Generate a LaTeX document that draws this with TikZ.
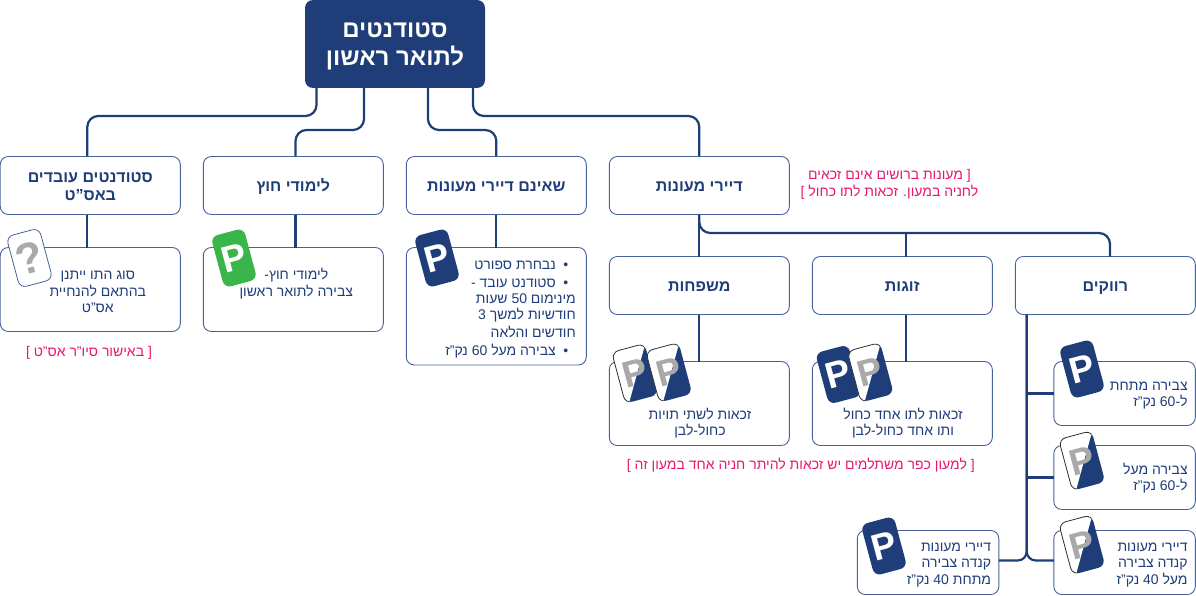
\documentclass[tikz,border=0pt]{standalone}
\usepackage{fontspec}
\setmainfont{Liberation Sans}
\newfontfamily\hebfont[Script=Hebrew]{Liberation Sans}
\TeXXeTstate=1
\usetikzlibrary{positioning}

\definecolor{navy}{HTML}{1F3D78}
\definecolor{edge}{HTML}{47629B}
\definecolor{pinknote}{HTML}{E6176F}
\definecolor{greencard}{HTML}{39B54A}
\definecolor{graycard}{HTML}{A9A9A9}

\newcommand{\rl}[1]{\strut\raisebox{-2.3pt}{\beginR #1\endR}}
\newcommand{\num}[1]{\beginL #1\endL{}}
\newcommand{\bul}{\makebox[20pt][c]{\raisebox{-2.3pt}{•}}}

\tikzset{
  rootbox/.style={rectangle,fill=navy,rounded corners=8pt,minimum width=180pt,minimum height=88pt,outer sep=0pt,
    text=white,align=center,font=\hebfont\fontsize{24}{28}\selectfont\bfseries},
  headbox/.style={rectangle,draw=edge,line width=.9pt,rounded corners=8pt,minimum width=180pt,minimum height=58pt,outer sep=0pt,
    text=navy,align=center,font=\hebfont\fontsize{16}{18.5}\selectfont\bfseries},
  notebox/.style={rectangle,draw=edge,line width=.9pt,rounded corners=8pt,minimum width=180pt,minimum height=84pt,outer sep=0pt},
  smallbox/.style={notebox,minimum width=141.5pt,minimum height=64pt},
  bodytext/.style={text=navy,align=center,inner sep=0pt,font=\hebfont\fontsize{14}{16}\selectfont},
  righttext/.style={bodytext,align=right,anchor=east},
  pinktext/.style={text=pinknote,align=center,inner sep=0pt,font=\hebfont\fontsize{14}{16}\selectfont},
  conn/.style={draw=navy,line width=2.2pt,rounded corners=11pt},
  card/.style={rectangle,rounded corners=7pt,minimum width=34pt,minimum height=53pt,rotate=15,inner sep=0pt,
    font=\fontsize{37}{37}\selectfont\bfseries},
  fullcard/.style={card,fill=navy,text=white},
  halfcard/.pic={
    \fill[navy,rounded corners=7pt] (-17,-26.5) rectangle (17,26.5);
    \begin{scope}
      \clip (-18,-28) -- (18,-28) -- (17,-25) -- (-14,28) -- (-18,28) -- cycle;
      \filldraw[fill=white,draw=black!80,line width=.8pt,rounded corners=7pt] (-17,-26.5) rectangle (17,26.5);
    \end{scope}
    \node[transform shape,text=graycard,inner sep=0pt,font=\fontsize{37}{37}\selectfont\bfseries] (-p) at (0,0) {P};
  }
}

\begin{document}
\begin{tikzpicture}[x=1pt,y=-1pt]
\useasboundingbox (0,0) rectangle (1196,596);

\node (root) [rootbox] at (395,44) {\rl{סטודנטים}\\\rl{לתואר ראשון}};

% first row
\node (dorms) [headbox] at (699.3,185.5) {\rl{דיירי מעונות}};
\node (nodorms) [headbox,left=23pt of dorms] {\rl{שאינם דיירי מעונות}};
\node (external) [headbox,left=23pt of nodorms] {\rl{לימודי חוץ}};
\node (working) [headbox,left=23pt of external] {\rl{סטודנטים עובדים}\\\rl{באס”ט}};

\node (workingnote) [notebox,below=33pt of working] {};
\node (externalnote) [notebox,below=33pt of external] {};
\node (nodormsnote) [notebox,below=33pt of nodorms,minimum height=117.5pt] {};

% second row
\node (families) [headbox,below=42pt of dorms] {\rl{משפחות}};
\node (couples) [headbox,right=23pt of families] {\rl{זוגות}};
\node (singles) [headbox,right=23pt of couples] {\rl{רווקים}};

\node (familiesnote) [notebox,below=47pt of families] {};
\node (couplesnote) [notebox,below=47pt of couples] {};

\node (below60) [smallbox,below=47pt of singles.south east,anchor=north east] {};
\node (above60) [smallbox,below=20pt of below60] {};
\node (canadaabove) [smallbox,below=21pt of above60] {};
\node (canadabelow) [smallbox,left=55pt of canadaabove] {};

\coordinate (spine) at ([xshift=-78.6pt]singles.south);

% texts of the boxes
\node (workingtext) [bodytext] at ([xshift=7.5pt,yshift=-1pt]workingnote.center) {\rl{סוג התו ייתנן}\\\rl{בהתאם להנחיית}\\\rl{אס”ט}};
\node (externaltext) [bodytext] at ([xshift=3pt,yshift=7pt]externalnote.center) {\rl{לימודי חוץ-}\\\rl{צבירה לתואר ראשון}};
\node (nodormstext) [righttext] at (576,307) {\rl{נבחרת ספורט}\bul\\[2.5pt]
  \rl{סטודנט עובד -}\bul\\
  \rl{מינימום \num{50} שעות}\hspace*{20pt}\\
  \rl{חודשיות למשך \num{3}}\hspace*{20pt}\\
  \rl{חודשים והלאה}\hspace*{20pt}\\[2.5pt]
  \rl{צבירה מעל \num{60} נק”ז}\bul};
\node (familiestext) [bodytext] at ([xshift=.7pt,yshift=-19pt]familiesnote.center) {\rl{זכאות לשתי תויות}\\\rl{כחול-לבן}};
\node (couplestext) [bodytext] at ([xshift=.7pt,yshift=-19pt]couplesnote.center) {\rl{זכאות לתו אחד כחול}\\\rl{ותו אחד כחול-לבן}};
\node (below60text) [righttext] at ([xshift=-7.5pt]below60.east) {\rl{צבירה מתחת}\\\rl{ל-\num{60} נק”ז}};
\node (above60text) [righttext] at ([xshift=-7.5pt]above60.east) {\rl{צבירה מעל}\\\rl{ל-\num{60} נק”ז}};
\node (canadaabovetext) [righttext] at ([xshift=-7.5pt]canadaabove.east) {\rl{דיירי מעונות}\\\rl{קנדה צבירה}\\\rl{מעל \num{40} נק”ז}};
\node (canadabelowtext) [righttext] at ([xshift=-7.5pt]canadabelow.east) {\rl{דיירי מעונות}\\\rl{קנדה צבירה}\\\rl{מתחת \num{40} נק”ז}};

% pink remarks
\node (dormsremark) [pinktext] at (889.5,183) {\rl{[ מעונות ברושים אינם זכאים}\\\strut\raisebox{-2.3pt}{\beginR לחניה במעון. זכאות לתו כחול ]\endR}};
\node (workingremark) [pinktext] at (89,351.7) {\rl{[ באישור סיו”ר אס”ט ]}};
\node (familiesremark) [pinktext] at (800.8,464.3) {\rl{[ למעון כפר משתלמים יש זכאות להיתר חניה אחד במעון זה ]}};

% connectors from the top box
\draw [conn] ([xshift=-78.5pt]root.south) -- ++(0,28) -| ([xshift=-3pt]working.north);
\draw [conn] ([xshift=-31pt]root.south) -- ++(0,42) -| ([xshift=2.2pt]external.north);
\draw [conn] ([xshift=33pt]root.south) -- ++(0,42) -| (nodorms.north);
\draw [conn] ([xshift=78pt]root.south) -- ++(0,28) -| (dorms.north);

\draw [conn] ([xshift=-3pt]working.south) -- ([xshift=-3pt]workingnote.north);
\draw [conn] ([xshift=2.2pt]external.south) -- ([xshift=2.2pt]externalnote.north);
\draw [conn] (nodorms.south) -- (nodormsnote.north);

\draw [conn] (dorms.south) -- (families.north);
\draw [conn] (dorms.south) -- ++(0,18.5) -| ([xshift=4.7pt]singles.north);
\draw [conn] ([xshift=4pt]couples.north) -- ++(0,-23.5);

\draw [conn] (families.south) -- (familiesnote.north);
\draw [conn] ([xshift=4pt]couples.south) -- ([xshift=4pt]couplesnote.north);

\draw [conn,rounded corners=9pt] (spine) |- ([yshift=2pt]canadaabove.west);
\draw [conn,rounded corners=9pt] (spine) |- ([yshift=2pt]canadabelow.east);
\draw [conn] (spine |- below60.west) -- (below60.west);
\draw [conn] (spine |- above60.west) -- (above60.west);

% parking cards on top
\node (askcard) [card,draw=edge,line width=.8pt,fill=white,text=graycard,font=\fontsize{44}{44}\selectfont\bfseries] at (29.5,258) {?};
\node (greencard) [card,fill=greencard,text=white] at (234,258) {P};
\node (bluecard) [fullcard] at (437,258) {P};
\pic (famleft) [rotate=15] at (635,373.5) {halfcard};
\pic (famright) [rotate=15] at (669,372.5) {halfcard};
\node (couplecard) [fullcard] at (838.5,374.5) {P};
\pic (coupleright) [rotate=15] at (870.5,372.5) {halfcard};
\node (below60card) [fullcard] at (1082,369) {P};
\pic (above60card) [rotate=15] at (1082,460.7) {halfcard};
\pic (canadaabovecard) [rotate=15] at (1082,544.8) {halfcard};
\node (canadabelowcard) [fullcard] at (884,546) {P};
\end{tikzpicture}
\end{document}
